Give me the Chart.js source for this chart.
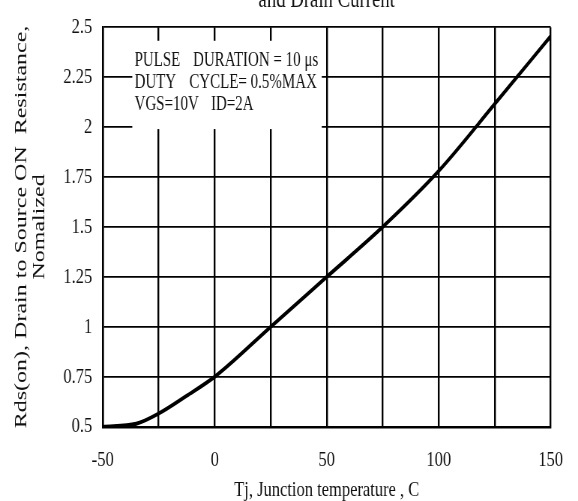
<!DOCTYPE html>
<html>
<head>
    <title>Rds(on) vs Junction Temperature</title>
    <script src="https://cdn.jsdelivr.net/npm/chart.js"></script>
    <style>
        body { margin: 0; background: #fff; overflow: hidden; }
        /* the source picture is squeezed sideways, so draw wide and squeeze it the same way */
        #wrap { width: 771px; height: 501px; transform: scaleX(0.7497); transform-origin: 0 0; }
    </style>
</head>
<body>
    <div id="wrap"><canvas id="myChart" width="771" height="501"></canvas></div>

    <script>
        // Tj (C) and normalized Rds(on)
        const temps = [-50, -35, -25, -12.5, 0, 25, 50, 75, 100, 125, 150];
        const rdsNorm = [0.5, 0.515, 0.566, 0.655, 0.75, 1.0, 1.25, 1.5, 1.78, 2.115, 2.455];
        const xLabels = [-50, 0, 50, 100, 150];
        const noteLines = [
            ['PULSE', 'DURATION = 10 \u03bcs'],
            ['DUTY', 'CYCLE= 0.5%MAX'],
            ['VGS=10V', 'ID=2A']
        ];

        const serif = '"Liberation Serif", "Times New Roman", serif';
        const ink = '#111';

        // white box with the test conditions, plus the clipped title at the top
        const notes = {
            id: 'notes',
            beforeDatasetsDraw(chart) {
                const c = chart.ctx, x = chart.scales.x, y = chart.scales.y;
                const l = x.getPixelForValue(-36.8), r = x.getPixelForValue(47.8);
                const t = y.getPixelForValue(2.432), b = y.getPixelForValue(1.99);
                c.save();
                c.fillStyle = '#fff';
                c.fillRect(l, t, r - l, b - t);
                c.fillStyle = ink;
                c.font = '20px ' + serif;
                c.textBaseline = 'middle';
                const rows = [61, 83, 105];
                const col2 = [81, 76, 105];
                noteLines.forEach((ln, i) => {
                    c.fillText(ln[0], l + 3, rows[i]);
                    c.fillText(ln[1], l + col2[i], rows[i]);
                });
                c.font = '25px ' + serif;
                c.textAlign = 'center';
                c.textBaseline = 'alphabetic';
                c.fillText('and Drain Current', (chart.chartArea.left + chart.chartArea.right) / 2, 7);
                c.restore();
            }
        };

        const ctx = document.getElementById('myChart').getContext('2d');
        const chart = new Chart(ctx, {
            type: 'line',
            data: {
                labels: temps,
                datasets: [{
                    data: temps.map((t, i) => ({ x: t, y: rdsNorm[i] })),
                    borderColor: '#000',
                    borderWidth: 4,
                    pointRadius: 0,
                    cubicInterpolationMode: 'monotone',
                    fill: false
                }]
            },
            options: {
                responsive: false,
                animation: false,
                layout: { padding: { top: 23.3, right: 25.3, left: 0, bottom: 0 } },
                plugins: { legend: { display: false }, tooltip: { enabled: false } },
                scales: {
                    x: {
                        type: 'linear',
                        min: -50, max: 150,
                        afterFit: s => { s.height = 74.3; },
                        grid: { color: '#000', lineWidth: 2.4, drawTicks: false },
                        border: { color: '#000', width: 2.4 },
                        ticks: {
                            stepSize: 25, autoSkip: false, maxRotation: 0,
                            padding: 20, color: ink,
                            font: { family: serif, size: 22 },
                            callback: v => xLabels.includes(v) ? String(v) : ''
                        },
                        title: {
                            display: true, text: 'Tj, Junction temperature , C',
                            color: ink, padding: 0,
                            font: { family: serif, size: 22, lineHeight: 1 }
                        }
                    },
                    y: {
                        min: 0.5, max: 2.5,
                        afterFit: s => { s.width = 137; },
                        grid: { color: '#000', lineWidth: 1.8, drawTicks: false },
                        border: { color: '#000', width: 2.4 },
                        ticks: {
                            stepSize: 0.25, padding: 14, color: ink,
                            font: { family: serif, size: 22 },
                            callback: v => String(v)
                        },
                        title: {
                            display: true,
                            text: ['Rds(on), Drain to Source ON  Resistance,', 'Nomalized'],
                            color: ink, padding: { top: 17, bottom: 0 },
                            font: { family: serif, size: 24, lineHeight: 1 }
                        }
                    }
                }
            },
            plugins: [notes]
        });
    </script>
</body>
</html>
